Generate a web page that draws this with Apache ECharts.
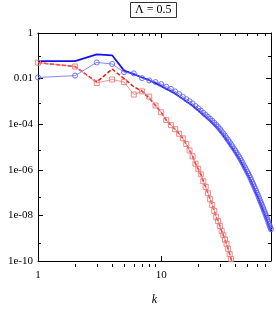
<!DOCTYPE html>
<html>
<head>
<meta charset="utf-8">
<script src="https://cdn.jsdelivr.net/npm/echarts@6/dist/echarts.min.js"></script>
<style>html,body{margin:0;padding:0;background:#fff}#c{width:276px;height:311px}</style>
</head>
<body>
<div id="c"></div>
<script>
// k values
var kBlue = []; for (var i = 1; i <= 78; i++) kBlue.push(i);
var kRed = []; for (var j = 1; j <= 38; j++) kRed.push(j);

// Blue thick solid line
var blueSolid = [5.89e-2,5.89e-2,1.15e-1,1.05e-1,2.24e-2,1.58e-2,1.12e-2,8.51e-3,6.31e-3,4.68e-3,
3.55e-3,2.82e-3,2.19e-3,1.66e-3,1.29e-3,1.00e-3,8.13e-4,6.46e-4,5.01e-4,3.98e-4,
3.16e-4,2.51e-4,2.04e-4,1.66e-4,1.38e-4,1.12e-4,9.12e-5,7.41e-5,6.03e-5,4.90e-5,
3.89e-5,3.16e-5,2.51e-5,2.00e-5,1.58e-5,1.29e-5,1.02e-5,8.32e-6,6.76e-6,5.50e-6,
4.47e-6,3.63e-6,2.95e-6,2.40e-6,1.91e-6,1.55e-6,1.23e-6,1.00e-6,8.13e-7,6.46e-7,
5.37e-7,4.37e-7,3.55e-7,2.82e-7,2.24e-7,1.82e-7,1.45e-7,1.17e-7,9.55e-8,7.76e-8,
6.31e-8,5.01e-8,4.07e-8,3.31e-8,2.69e-8,2.19e-8,1.78e-8,1.45e-8,1.17e-8,9.55e-9,
7.94e-9,6.46e-9,5.25e-9,4.27e-9,3.47e-9,2.82e-9,2.34e-9,1.95e-9];

// Blue circles (thin line)
var blueCircles = [1.12e-2,1.35e-2,5.13e-2,4.37e-2,1.91e-2,1.70e-2,1.05e-2,8.32e-3,7.08e-3,5.75e-3,
4.47e-3,3.55e-3,2.75e-3,2.09e-3,1.62e-3,1.26e-3,1.02e-3,8.13e-4,6.31e-4,5.01e-4,
3.98e-4,3.16e-4,2.57e-4,2.09e-4,1.74e-4,1.41e-4,1.15e-4,9.33e-5,7.59e-5,6.17e-5,
4.90e-5,3.98e-5,3.16e-5,2.51e-5,2.00e-5,1.62e-5,1.29e-5,1.05e-5,8.51e-6,6.92e-6,
5.62e-6,4.57e-6,3.72e-6,3.02e-6,2.40e-6,1.95e-6,1.55e-6,1.26e-6,1.02e-6,8.13e-7,
6.76e-7,5.50e-7,4.47e-7,3.55e-7,2.82e-7,2.29e-7,1.82e-7,1.48e-7,1.20e-7,9.77e-8,
7.94e-8,6.31e-8,5.13e-8,4.17e-8,3.39e-8,2.75e-8,2.24e-8,1.82e-8,1.48e-8,1.20e-8,
1.00e-8,8.13e-9,6.61e-9,5.37e-9,4.37e-9,3.55e-9,2.95e-9,2.45e-9];

// Red dashed line
var redDashed = [5.01e-2,3.39e-2,7.08e-3,2.63e-2,1.00e-2,4.37e-3,2.82e-3,1.38e-3,6.61e-4,3.31e-4,
1.51e-4,9.12e-5,6.03e-5,3.80e-5,2.40e-5,1.35e-5,7.08e-6,3.89e-6,1.86e-6,1.10e-6,
6.31e-7,3.16e-7,1.78e-7,9.33e-8,5.13e-8,2.88e-8,1.58e-8,8.32e-9,5.62e-9,3.47e-9,
2.09e-9,1.35e-9,8.71e-10,5.62e-10,3.39e-10,2.00e-10,1.23e-10,7.59e-11];

// Red squares (thin line)
var redSquares = [5.01e-2,3.39e-2,6.46e-3,9.12e-3,7.08e-3,2.00e-3,2.75e-3,1.62e-3,6.61e-4,3.31e-4,
1.51e-4,9.12e-5,6.03e-5,3.80e-5,2.40e-5,1.35e-5,7.08e-6,3.89e-6,1.86e-6,1.10e-6,
6.31e-7,3.16e-7,1.78e-7,9.33e-8,5.13e-8,2.88e-8,1.58e-8,8.32e-9,5.62e-9,3.47e-9,
2.09e-9,1.35e-9,8.71e-10,5.62e-10,3.39e-10,2.00e-10,1.23e-10,7.59e-11];

// Tick labels / tick positions
var xMajor = [1, 10];
var xMinor = [2,3,4,5,6,7,8,9,20,30,40,50,60,70];
var yMajor = [1, 1e-2, 1e-4, 1e-6, 1e-8, 1e-10];
var yMinor = [1e-1, 1e-3, 1e-5, 1e-7, 1e-9];
var titleText = 'Λ = 0.5';
var xName = 'k';

function pairs(ks, vs) { return ks.map(function (k, i) { return [k, vs[i]]; }); }
function yFmt(v) {
  var e = Math.round(Math.log10(v));
  if (e === 0) return '1';
  if (e >= -2) return '0.01';
  var a = -e; return '1e-' + (a < 10 ? '0' + a : a);
}
var FONT = 'Liberation Serif';
var XMIN = 1, XMAX = 78, YMIN = 1e-10, YMAX = 1;

function xAx(grid, pos, ticks, len, labels, line) {
  return {
    type: 'log', logBase: 10, gridIndex: grid, position: pos, min: XMIN, max: XMAX,
    axisLine: { show: line, lineStyle: { color: '#000', width: 1 } },
    axisTick: { show: true, inside: true, length: len, customValues: ticks, lineStyle: { color: '#000', width: 1 } },
    axisLabel: labels ? { show: true, customValues: xMajor, color: '#000', fontFamily: FONT, fontSize: 11, margin: 9,
      formatter: function (v) { return String(Math.round(v)); } } : { show: false },
    splitLine: { show: false }, minorTick: { show: false },
    name: labels ? xName : '', nameLocation: 'middle', nameGap: 33,
    nameTextStyle: { fontFamily: FONT, fontStyle: 'italic', fontSize: 12, color: '#000' }
  };
}
function yAx(grid, pos, ticks, len, labels, line) {
  return {
    type: 'log', logBase: 10, gridIndex: grid, position: pos, min: YMIN, max: YMAX,
    axisLine: { show: line, lineStyle: { color: '#000', width: 1 } },
    axisTick: { show: true, inside: true, length: len, customValues: ticks, lineStyle: { color: '#000', width: 1 } },
    axisLabel: labels ? { show: true, customValues: yMajor, color: '#000', fontFamily: FONT, fontSize: 11, margin: 5,
      formatter: yFmt } : { show: false },
    splitLine: { show: false }, minorTick: { show: false }
  };
}

var gridRect = { left: 38, right: 5, top: 33, bottom: 44 };
var chart = echarts.init(document.getElementById('c'), null, { renderer: 'canvas' });
chart.setOption({
  animation: false,
  backgroundColor: '#fff',
  title: {
    text: titleText, left: 130, top: 2,
    borderWidth: 1, borderColor: '#333', padding: [2, 5],
    textStyle: { fontFamily: FONT, fontSize: 12, fontWeight: 'normal', color: '#000' }
  },
  grid: [Object.assign({}, gridRect), Object.assign({}, gridRect)],
  xAxis: [
    xAx(0, 'bottom', xMajor, 5, true, true),
    xAx(0, 'top', xMajor, 5, false, true),
    xAx(1, 'bottom', xMinor, 3, false, false),
    xAx(1, 'top', xMinor, 3, false, false)
  ],
  yAxis: [
    yAx(0, 'left', yMajor, 5, true, true),
    yAx(0, 'right', yMajor, 5, false, true),
    yAx(1, 'left', yMinor, 3, false, false),
    yAx(1, 'right', yMinor, 3, false, false)
  ],
  series: [
    {
      type: 'line', xAxisIndex: 0, yAxisIndex: 0, data: pairs(kBlue, blueSolid),
      showSymbol: false, symbol: 'none', lineStyle: { color: '#1414e8', width: 1.8 }, clip: true, z: 3
    },
    {
      type: 'line', xAxisIndex: 0, yAxisIndex: 0, data: pairs(kBlue, blueCircles),
      symbol: 'circle', symbolSize: 5, clip: true,
      itemStyle: { color: 'rgba(0,0,0,0)', borderColor: '#6060ff', borderWidth: 0.9 },
      lineStyle: { color: '#6a6aff', width: 0.8 }, z: 4
    },
    {
      type: 'line', xAxisIndex: 0, yAxisIndex: 0, data: pairs(kRed, redDashed),
      symbol: 'none', clip: true, lineStyle: { color: '#f01010', width: 1.5, type: [4, 2] }, z: 3
    },
    {
      type: 'line', xAxisIndex: 0, yAxisIndex: 0, data: pairs(kRed, redSquares),
      symbol: 'rect', symbolSize: 5, clip: true,
      itemStyle: { color: 'rgba(0,0,0,0)', borderColor: '#f07878', borderWidth: 0.9 },
      lineStyle: { color: '#f07878', width: 0.8 }, z: 4
    }
  ]
});
</script>
</body>
</html>
